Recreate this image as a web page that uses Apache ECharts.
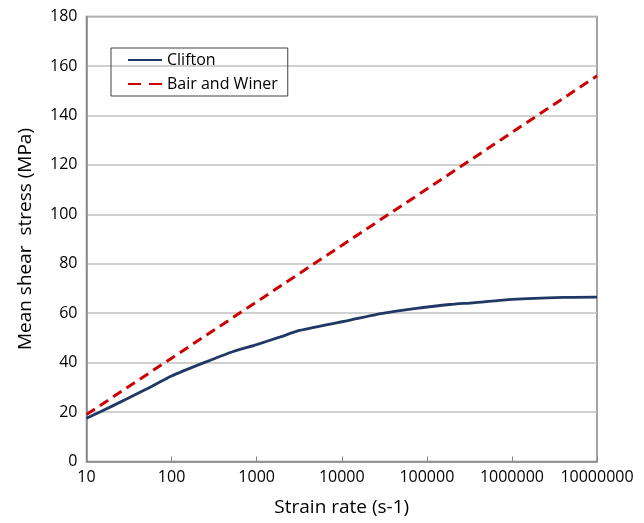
<!DOCTYPE html>
<html>
<head>
<meta charset="utf-8">
<script src="https://cdn.jsdelivr.net/npm/echarts@6/dist/echarts.min.js"></script>
<style>
  html, body { margin: 0; padding: 0; background: #fff; }
  #chart { width: 644px; height: 523px; }
</style>
</head>
<body>
<div id="chart"></div>
<script>
// strain rate (s-1) and mean shear stress (MPa)
var cliftonRate = [10, 20, 50, 100, 250, 530, 1000, 1900, 3200, 12500, 30000, 75000, 186000, 350000, 1000000, 4000000, 10000000];
var cliftonStress = [17.5, 22.4, 29.2, 34.6, 40.2, 44.5, 47.3, 50.4, 53.0, 57.2, 59.9, 61.9, 63.5, 64.2, 65.6, 66.4, 66.5];

var bairRate = [10, 100, 1000, 10000, 100000, 1000000, 10000000];
var bairStress = [19.0, 41.8, 64.6, 87.4, 110.2, 133.1, 156.0];

var yTicks = { min: 0, max: 180, step: 20 };

function pairs(xs, ys) {
  return xs.map(function (x, i) { return [x, ys[i]]; });
}

var font = '"Open Sans", "Liberation Sans", sans-serif';

var chart = echarts.init(document.getElementById('chart'));
chart.setOption({
  animation: false,
  backgroundColor: '#fff',
  textStyle: { fontFamily: font },
  grid: {
    left: 86.5, right: 47, top: 16.5, bottom: 61.5,
    show: true, borderColor: '#868686', borderWidth: 1.5
  },
  legend: {
    orient: 'vertical',
    left: 111, top: 48,
    padding: [4, 10, 4, 16],
    itemGap: 8,
    itemWidth: 34,
    itemHeight: 15,
    borderColor: '#404040',
    borderWidth: 1,
    itemStyle: { opacity: 0 },
    textStyle: { fontSize: 16, color: '#000', fontFamily: font },
    data: [
      { name: 'Clifton' },
      { name: 'Bair and Winer', lineStyle: { type: [13, 8] } }
    ]
  },
  xAxis: {
    type: 'log',
    logBase: 10,
    min: 10,
    max: 10000000,
    name: 'Strain rate (s-1)',
    nameLocation: 'middle',
    nameGap: 37,
    nameTextStyle: { fontSize: 19, color: '#000', fontFamily: font },
    axisLine: { lineStyle: { color: '#868686', width: 1.5 } },
    axisTick: { show: true, inside: true, length: 5, lineStyle: { color: '#868686' } },
    minorTick: { show: false },
    splitLine: { show: false },
    axisLabel: {
      fontSize: 16, color: '#000', margin: 8, fontFamily: font,
      formatter: function (v) { return String(Math.round(v)); }
    }
  },
  yAxis: {
    type: 'value',
    min: yTicks.min,
    max: yTicks.max,
    interval: yTicks.step,
    name: 'Mean shear  stress (MPa)',
    nameLocation: 'middle',
    nameGap: 51,
    nameTextStyle: { fontSize: 19, color: '#000', fontFamily: font },
    axisLine: { show: true, lineStyle: { color: '#868686', width: 1.5 } },
    axisTick: { show: false },
    splitLine: { lineStyle: { color: '#c0c0c0', width: 1.5 } },
    axisLabel: { fontSize: 16, color: '#000', margin: 9, fontFamily: font }
  },
  series: [
    {
      name: 'Clifton',
      type: 'line',
      data: pairs(cliftonRate, cliftonStress),
      symbol: 'none',
      smooth: 0.2,
      color: '#1f3864',
      lineStyle: { color: '#1f3864', width: 2.8 }
    },
    {
      name: 'Bair and Winer',
      type: 'line',
      data: pairs(bairRate, bairStress),
      symbol: 'none',
      color: '#cc0000',
      lineStyle: { color: '#cc0000', width: 3, type: [10, 6] }
    }
  ]
});
</script>
</body>
</html>
